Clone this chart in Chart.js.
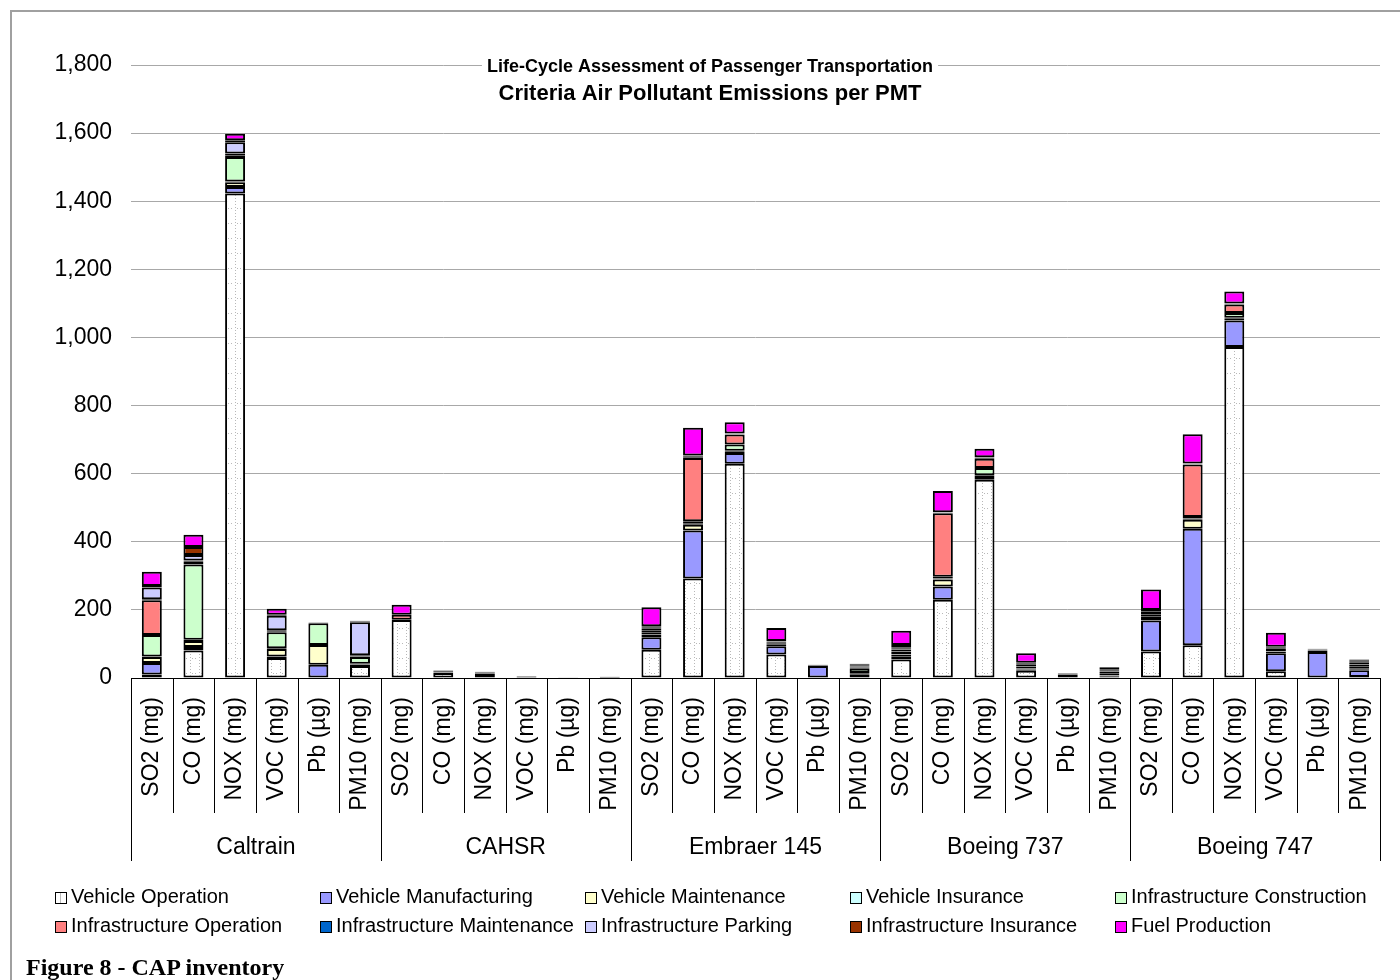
<!DOCTYPE html>
<html>
<head>
<meta charset="utf-8">
<title>CAP inventory</title>
<script src="https://cdn.jsdelivr.net/npm/chart.js@4"></script>
<style>
  body { margin: 0; background: #fff; font-family: "Liberation Sans", Arial, sans-serif; }
  #wrap { position: relative; width: 1400px; height: 980px; overflow: hidden; }
  #frame { position: absolute; left: 10px; top: 10px; width: 1400px; height: 1000px;
           border-left: 2px solid #a0a0a0; border-top: 2px solid #a0a0a0; }
  canvas { position: absolute; left: 0; top: 0; }
  .leg { position: absolute; font-size: 20px; color: #000; white-space: nowrap; line-height: 20px; }
  .leg span.box { display: inline-block; width: 10px; height: 10px; border: 1.5px solid #000;
                  margin-right: 4px; vertical-align: -1px; }
  #caption { position: absolute; left: 26px; top: 954px; font-family: "Liberation Serif", "Times New Roman", serif;
             font-weight: bold; font-size: 24px; color: #000; }
</style>
</head>
<body>
<div id="wrap">
  <div id="frame"></div>
  <canvas id="capChart" width="1400" height="980"></canvas>
  <div id="legend"></div>
  <div id="caption">Figure 8 - CAP inventory</div>
</div>
<script>
// Categories: 5 modes x 6 pollutants
const groups = ['Caltrain', 'CAHSR', 'Embraer 145', 'Boeing 737', 'Boeing 747'];
const pollutants = ['SO2 (mg)', 'CO (mg)', 'NOX (mg)', 'VOC (mg)', 'Pb (µg)', 'PM10 (mg)'];
const yTicks = [0, 200, 400, 600, 800, 1000, 1200, 1400, 1600, 1800];

// Series values, one entry per bar (Caltrain..., CAHSR..., Embraer..., B737..., B747...)
const vehicleOperation      = [10, 81, 1423, 59, 0, 35,   170, 15, 12, 3, 0, 1,   83, 292, 629, 69, 0, 6,   54, 230, 582, 21, 0, 3,   78, 96, 972, 20, 0, 3];
const vehicleManufacturing  = [34, 10, 19, 4, 39, 5,      0, 1, 0, 0, 0, 0,       37, 141, 32, 24, 35, 5,   10, 39, 5, 4, 10, 2,      91, 342, 78, 53, 76, 20];
const vehicleMaintenance    = [18, 18, 14, 22, 58, 1,     0, 0, 0, 0, 0, 0,       6, 17, 5, 4, 2, 3,        5, 20, 6, 3, 2, 2,        10, 27, 5, 4, 5, 3];
const vehicleInsurance      = [1, 3, 2, 2, 0, 1,          0, 0, 0, 0, 0, 0,       2, 3, 1, 1, 0, 1,         1, 3, 2, 1, 0, 1,         2, 3, 3, 1, 0, 1];
const infraConstruction     = [63, 221, 72, 47, 64, 20,   1, 1, 1, 1, 1, 1,       6, 7, 19, 4, 1, 12,       8, 5, 22, 5, 1, 6,        6, 5, 14, 4, 2, 6];
const infraOperation        = [102, 8, 5, 3, 1, 1,        15, 3, 3, 1, 0, 1,      6, 186, 29, 3, 1, 4,      6, 187, 27, 5, 1, 5,      4, 154, 25, 4, 1, 7];
const infraMaintenance      = [3, 4, 5, 3, 1, 4,          0, 0, 0, 0, 0, 0,       6, 2, 1, 2, 0, 3,         3, 1, 2, 2, 0, 4,         3, 1, 1, 2, 0, 5];
const infraParking          = [35, 16, 33, 43, 1, 97,     0, 0, 0, 0, 0, 0,       3, 2, 1, 1, 0, 2,         3, 1, 1, 2, 0, 3,         2, 1, 1, 2, 0, 3];
const infraInsurance        = [4, 24, 6, 3, 0, 2,         0, 0, 0, 0, 0, 0,       3, 3, 1, 1, 0, 3,         7, 1, 1, 2, 0, 4,         4, 1, 1, 2, 0, 4];
const fuelProduction        = [42, 36, 19, 17, 0, 2,      29, 2, 2, 1, 0, 1,      56, 82, 33, 38, 0, 3,     42, 62, 25, 28, 1, 2,     60, 86, 35, 41, 2, 2];

const seriesNames = ['Vehicle Operation', 'Vehicle Manufacturing', 'Vehicle Maintenance', 'Vehicle Insurance',
    'Infrastructure Construction', 'Infrastructure Operation', 'Infrastructure Maintenance',
    'Infrastructure Parking', 'Infrastructure Insurance', 'Fuel Production'];
const seriesValues = [vehicleOperation, vehicleManufacturing, vehicleMaintenance, vehicleInsurance,
    infraConstruction, infraOperation, infraMaintenance, infraParking, infraInsurance, fuelProduction];
const seriesColors = [null, '#9999FF', '#FFFFCC', '#CCFFFF', '#CCFFCC', '#FF8080', '#0066CC', '#CCCCFF', '#993300', '#FF00FF'];

const FONT = '"Liberation Sans", Arial, sans-serif';

// Dotted fill used for "Vehicle Operation"
function dottedPattern() {
    const c = document.createElement('canvas');
    c.width = 9; c.height = 15;
    const g = c.getContext('2d');
    g.fillStyle = '#fff';
    g.fillRect(0, 0, 9, 15);
    g.fillStyle = '#b8b8b8';
    for (let y = 0; y < 15; y += 3) g.fillRect(1, y, 1, 1);
    for (let x = 3; x < 9; x += 3) g.fillRect(x, 13, 1, 1);
    return document.createElement('canvas').getContext('2d').createPattern(c, 'repeat');
}

// Labels for each bar
const labels = [];
groups.forEach(() => pollutants.forEach(p => labels.push(p)));

const datasets = seriesNames.map((name, i) => ({
    label: name,
    data: seriesValues[i],
    backgroundColor: seriesColors[i] || dottedPattern(),
    borderColor: '#000',
    borderWidth: 2,
    borderSkipped: false,
    categoryPercentage: 1,
    barPercentage: 0.48
}));

// Separators, group labels and title drawn on top of the canvas
const decorPlugin = {
    id: 'decor',
    afterDraw(chart) {
        const ctx = chart.ctx;
        const area = chart.chartArea;
        const n = labels.length;
        const step = (area.right - area.left) / n;
        ctx.save();
        ctx.strokeStyle = '#000';
        ctx.lineWidth = 1;
        for (let i = 0; i <= n; i++) {
            const x = Math.round(area.left + i * step) + 0.5;
            const len = (i % pollutants.length === 0) ? 183 : 135;
            ctx.beginPath();
            ctx.moveTo(x, area.bottom);
            ctx.lineTo(x, area.bottom + len);
            ctx.stroke();
        }
        ctx.fillStyle = '#000';
        ctx.font = '23px ' + FONT;
        ctx.textAlign = 'center';
        ctx.textBaseline = 'middle';
        groups.forEach((g, i) => {
            const cx = area.left + (i + 0.5) * pollutants.length * step;
            ctx.fillText(g, cx, area.bottom + 170);
        });

        // Title
        const tx = 710;
        ctx.font = 'bold 18px ' + FONT;
        const w1 = ctx.measureText('Life-Cycle Assessment of Passenger Transportation').width;
        ctx.fillStyle = '#fff';
        ctx.fillRect(tx - w1 / 2 - 5, 56, w1 + 10, 22);
        ctx.fillStyle = '#000';
        ctx.fillText('Life-Cycle Assessment of Passenger Transportation', tx, 67);
        ctx.font = 'bold 22px ' + FONT;
        ctx.fillText('Criteria Air Pollutant Emissions per PMT', tx, 94);
        ctx.restore();
    }
};

new Chart(document.getElementById('capChart'), {
    type: 'bar',
    data: { labels: labels, datasets: datasets },
    options: {
        responsive: false,
        animation: false,
        layout: { padding: { left: 0, right: 20, top: 65, bottom: 115 } },
        plugins: {
            legend: { display: false },
            title: { display: false },
            tooltip: { enabled: false }
        },
        scales: {
            x: {
                stacked: true,
                grid: { display: false, drawTicks: false },
                border: { display: true, color: '#000', width: 1 },
                ticks: {
                    color: '#000',
                    font: { family: FONT, size: 23 },
                    minRotation: 90,
                    maxRotation: 90,
                    autoSkip: false,
                    padding: 19
                },
                afterFit: function(scale) {
                    scale.height = 187;
                    scale.paddingLeft = 0;
                    scale.paddingRight = 0;
                }
            },
            y: {
                stacked: true,
                min: yTicks[0],
                max: yTicks[yTicks.length - 1],
                afterBuildTicks: function(scale) { scale.ticks = yTicks.map(v => ({ value: v })); },
                grid: { color: '#a8a8a8', lineWidth: 1, drawTicks: false },
                border: { display: false },
                ticks: {
                    color: '#000',
                    font: { family: FONT, size: 23 },
                    padding: 19,
                    callback: v => v.toLocaleString('en-US')
                },
                afterFit: function(scale) { scale.width = 131; }
            }
        }
    },
    plugins: [decorPlugin]
});

// Legend, two rows of five
const legend = document.getElementById('legend');
const legX = [55, 320, 585, 850, 1115];
const legY = [886, 915];
seriesNames.forEach((name, i) => {
    const d = document.createElement('div');
    d.className = 'leg';
    d.style.left = legX[i % 5] + 'px';
    d.style.top = legY[Math.floor(i / 5)] + 'px';
    const box = document.createElement('span');
    box.className = 'box';
    if (seriesColors[i]) {
        box.style.background = seriesColors[i];
    } else {
        box.style.background = 'linear-gradient(90deg, #fff 45%, #bbb 45%, #bbb 55%, #fff 55%)';
    }
    d.appendChild(box);
    d.appendChild(document.createTextNode(name));
    legend.appendChild(d);
});
</script>
</body>
</html>
